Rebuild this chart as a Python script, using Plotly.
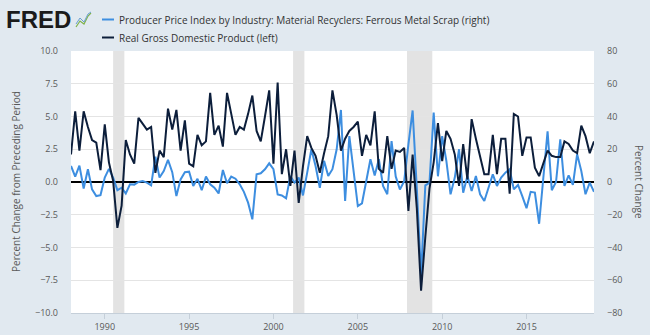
import plotly.graph_objects as go
import pandas as pd

# ---- data (quarterly, 1988Q1 .. 2019Q1) ----
start_date = "1988-01-01"

gdp = [2.1, 5.4, 2.4, 5.4, 4.2, 3.2, 3.0, 0.9,
       4.4, 1.5, 0.1, -3.5, -1.8, 3.2, 2.1, 1.4,
       4.9, 4.4, 4.0, 4.2, 0.7, 2.4, 1.9, 5.6,
       4.0, 5.5, 2.4, 4.7, 1.4, 1.2, 3.6, 2.8,
       3.1, 6.8, 3.6, 4.3, 2.7, 6.8, 5.1, 3.6,
       4.2, 4.0, 5.2, 6.6, 3.9, 3.1, 5.0, 7.0,
       1.4, 7.6, 0.6, 2.5, -0.3, 2.4, -1.6, 1.2,
       3.5, 2.6, 2.0, 0.7, 2.2, 3.5, 7.0, 5.1,
       2.4, 3.3, 3.9, 4.2, 4.6, 2.0, 3.6, 2.8,
       5.4, 1.0, 0.7, 3.5, 1.0, 2.4, 2.3, 2.6,
       -2.2, 2.1, -2.0, -8.3, -4.2, -0.5, 1.5, 4.5,
       1.6, 3.9, 3.3, 2.1, -0.3, 2.9, 0.2, 4.8,
       3.3, 1.9, 0.6, 0.6, 3.6, 0.6, 3.3, 3.3,
       -0.9, 5.2, 5.0, 2.0, 3.4, 3.4, 1.1, 0.45,
       1.35, 2.4, 2.0, 1.9, 1.9, 3.1, 2.9, 2.4,
       2.2, 4.3, 3.5, 2.2, 3.1]

ppi_scrap = [9.8, 3.3, 10.0, -4.0, 7.8, -4.5, -8.6, -8.0,
             2.7, 8.0, 2.7, -5.0, -3.5, -7.0, -1.4, -1.6,
             0.0, 0.6, -0.4, -2.0, 15.5, 2.7, 6.7, 13.5,
             6.0, -8.6, 1.6, 6.0, 6.3, -2.4, 2.0, -5.0,
             3.3, -1.4, -3.5, -7.0, 7.3, -0.8, 3.3, 2.0,
             -1.4, -6.0, -12.6, -22.8, 4.7, 5.3, 7.8, 11.4,
             7.8, -7.6, -8.2, -10.0, 3.7, -0.4, 2.7, -8.2,
             5.7, 20.0, 9.8, -3.5, 12.9, 3.7, 7.8, 20.0,
             44.0, -11.6, 28.0, 6.7, -14.7, -13.0, 0.0, 13.9,
             4.0, 13.9, -2.4, -7.5, 25.0, 3.4, -4.6, 0.5,
             23.0, 43.7, -4.0, -57.0, -2.0, -0.5, 42.4, 3.5,
             28.0, 13.0, -7.5, 2.7, 20.0, -6.5, 3.7, -5.5,
             3.7, -7.5, -11.6, -3.5, 4.7, -2.4, 2.7, 5.7,
             7.8, -4.5, -1.8, -8.6, -16.0, -6.0, -6.5, -25.5,
             3.7, 31.0, -5.0, 0.0, 26.0, -2.4, 4.0, -1.8,
             17.0, 6.7, -7.5, -0.4, -6.0]

recession_starts = ["1990-07-01", "2001-03-01", "2007-12-01"]
recession_ends = ["1991-03-01", "2001-11-01", "2009-06-01"]

name_ppi = "Producer Price Index by Industry: Material Recyclers: Ferrous Metal Scrap (right)"
name_gdp = "Real Gross Domestic Product (left)"

dates = pd.date_range(start_date, periods=len(gdp), freq="QS")

BLUE = "#3d8ee0"
NAVY = "#0c1e3b"
BG = "#e1e9f0"
TXT = "#595959"

W, H = 650, 335
ML, MR, MT, MB = 71, 56, 51, 22
PW, PH = W - ML - MR, H - MT - MB


def px_x(px):
    return (px - ML) / PW


def px_y(py):
    return (H - MB - py) / PH


fig = go.Figure()
fig.add_trace(go.Scatter(x=dates, y=ppi_scrap, name=name_ppi, mode="lines",
                         line=dict(color=BLUE, width=2), yaxis="y", showlegend=False))
fig.add_trace(go.Scatter(x=dates, y=gdp, name=name_gdp, mode="lines",
                         line=dict(color=NAVY, width=2), yaxis="y2", showlegend=False))

shapes = []
for s, e in zip(recession_starts, recession_ends):
    shapes.append(dict(type="rect", xref="x", yref="paper", x0=s, x1=e, y0=0, y1=1,
                       fillcolor="#e3e3e3", line=dict(width=0), layer="between"))

# manual legend
legend_rows = [(name_ppi, BLUE, 19.5), (name_gdp, NAVY, 37.5)]
annotations = []
for txt, col, py in legend_rows:
    shapes.append(dict(type="line", xref="paper", yref="paper",
                       x0=px_x(102), x1=px_x(114), y0=px_y(py), y1=px_y(py),
                       line=dict(color=col, width=2)))
    annotations.append(dict(text=txt, xref="paper", yref="paper", x=px_x(117), y=px_y(py),
                            xanchor="left", yanchor="middle", showarrow=False,
                            font=dict(family="Open Sans", size=10, color="#333333")))

# FRED logo
annotations.append(dict(text="<b>FRED</b>", xref="paper", yref="paper", x=px_x(4), y=px_y(19),
                        xanchor="left", yanchor="middle", showarrow=False,
                        font=dict(family="Liberation Sans", size=24, color="#1b1b1b")))
shapes.append(dict(type="path", xref="paper", yref="paper",
                   path="M {},{} L {},{} L {},{} L {},{} L {},{}".format(
                       px_x(76), px_y(27), px_x(80), px_y(21), px_x(84), px_y(24),
                       px_x(88), px_y(16), px_x(91), px_y(13)),
                   line=dict(color="#7fb24a", width=1.2)))
shapes.append(dict(type="path", xref="paper", yref="paper",
                   path="M {},{} L {},{} L {},{} L {},{} L {},{}".format(
                       px_x(76), px_y(24), px_x(80), px_y(18), px_x(84), px_y(22),
                       px_x(88), px_y(14), px_x(91), px_y(12)),
                   line=dict(color="#6a9fd0", width=1)))

# axis titles
annotations.append(dict(text="Percent Change from Preceding Period", xref="paper", yref="paper",
                        x=px_x(16), y=0.5, textangle=-90, showarrow=False,
                        xanchor="center", yanchor="middle",
                        font=dict(family="Open Sans", size=10, color=TXT)))
annotations.append(dict(text="Percent Change", xref="paper", yref="paper",
                        x=px_x(639), y=0.5, textangle=90, showarrow=False,
                        xanchor="center", yanchor="middle",
                        font=dict(family="Open Sans", size=10, color=TXT)))

fig.update_layout(
    width=W, height=H,
    margin=dict(l=ML, r=MR, t=MT, b=MB, autoexpand=False),
    paper_bgcolor=BG, plot_bgcolor="white",
    font=dict(family="Open Sans", size=9, color=TXT),
    showlegend=False,
    shapes=shapes, annotations=annotations,
    xaxis=dict(type="date", range=["1988-01-01", "2019-01-01"],
               tick0="1990-01-01", dtick="M60", tickformat="%Y",
               showgrid=False, ticks="outside", ticklen=5, tickcolor="#c5cfd9",
               showline=True, linecolor="#c5cfd9", linewidth=1, automargin=False,
               tickfont=dict(size=9, color=TXT), zeroline=False),
    yaxis=dict(side="right", range=[-80, 80], dtick=20, tick0=0,
               showgrid=True, gridcolor="#e4e4e4", gridwidth=1,
               zeroline=True, zerolinecolor="#000000", zerolinewidth=1.5,
               ticks="", ticklabelstandoff=12, automargin=False,
               tickfont=dict(size=9, color=TXT), showline=False),
    yaxis2=dict(side="left", overlaying="y", range=[-10, 10], dtick=2.5, tick0=0,
                tickformat=".1f", showgrid=False, zeroline=False,
                ticks="", ticklabelstandoff=12, automargin=False,
                tickfont=dict(size=9, color=TXT), showline=False),
)

fig.write_html("out.html")
